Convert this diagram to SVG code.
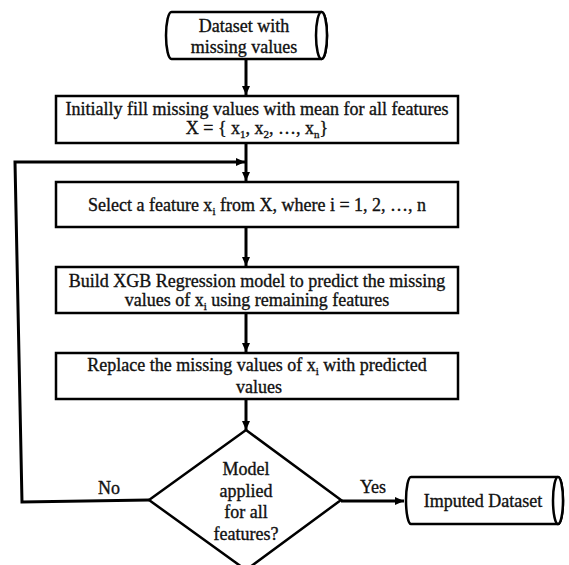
<svg xmlns="http://www.w3.org/2000/svg" width="569" height="565" viewBox="0 0 569 565">
<style>
.shape{fill:#fff;stroke:#000;stroke-width:2.5}
.conn{fill:none;stroke:#000;stroke-width:3}
text{font-family:"Liberation Serif","Times New Roman",serif;font-size:18px;fill:#111;stroke:#111;stroke-width:0.35;text-anchor:middle}
.sub{font-size:11px}
</style>
<defs>
<marker id="ah" markerUnits="userSpaceOnUse" markerWidth="10" markerHeight="10" refX="9" refY="4" orient="auto">
<path d="M0,0 L9,4 L0,8 Z" fill="#000"/>
</marker>
</defs>
<rect width="569" height="565" fill="#fff"/>
<g id="connectors">
<line class="conn" x1="246" y1="60" x2="246" y2="95" marker-end="url(#ah)"/>
<line class="conn" x1="246" y1="144" x2="246" y2="181" marker-end="url(#ah)"/>
<polyline class="conn" points="149,500 22,502 15,162 245,162" marker-end="url(#ah)"/>
<line class="conn" x1="246" y1="228" x2="246" y2="266" marker-end="url(#ah)"/>
<line class="conn" x1="246" y1="314" x2="246" y2="352" marker-end="url(#ah)"/>
<line class="conn" x1="246" y1="400" x2="246" y2="430" marker-end="url(#ah)"/>
<line class="conn" x1="341" y1="501" x2="404" y2="501" marker-end="url(#ah)"/>
<text x="109" y="494">No</text>
<text x="373" y="493">Yes</text>
</g>
<g id="start">
<path class="shape" d="M171.5,12 H321.5 A5.5,23.5 0 0 1 321.5,59 H171.5 A5.5,23.5 0 0 1 171.5,12 Z"/>
<ellipse class="shape" cx="321.5" cy="35.5" rx="5.5" ry="23.5"/>
<text x="244" y="32">Dataset with</text>
<text x="244" y="53">missing values</text>
</g>
<g id="init">
<rect class="shape" x="56" y="96" width="402" height="47"/>
<text x="257" y="115">Initially fill missing values with mean for all features</text>
<text x="257" y="134">X = { x<tspan class="sub" dy="4">1</tspan><tspan dy="-4">, x</tspan><tspan class="sub" dy="4">2</tspan><tspan dy="-4">, …, x</tspan><tspan class="sub" dy="4">n</tspan><tspan dy="-4">}</tspan></text>
</g>
<g id="select">
<rect class="shape" x="56" y="182" width="402" height="45"/>
<text x="257" y="211">Select a feature x<tspan class="sub" dy="4">i</tspan><tspan dy="-4"> from X, where i = 1, 2, …, n</tspan></text>
</g>
<g id="build">
<rect class="shape" x="56" y="267" width="402" height="46"/>
<text x="257" y="287">Build XGB Regression model to predict the missing</text>
<text x="257" y="306">values of x<tspan class="sub" dy="4">i</tspan><tspan dy="-4"> using remaining features</tspan></text>
</g>
<g id="replace">
<rect class="shape" x="56" y="353" width="402" height="46"/>
<text x="257" y="371">Replace the missing values of x<tspan class="sub" dy="4">i</tspan><tspan dy="-4"> with predicted</tspan></text>
<text x="259" y="393">values</text>
</g>
<g id="decision">
<polygon class="shape" points="246,430 341,500 246,570 149,500"/>
<text x="246" y="475">Model</text>
<text x="246" y="497">applied</text>
<text x="246" y="518">for all</text>
<text x="246" y="540">features?</text>
</g>
<g id="end">
<path class="shape" d="M411,477 H558 A5,23.5 0 0 1 558,524 H411 A5,23.5 0 0 1 411,477 Z"/>
<ellipse class="shape" cx="558" cy="500.5" rx="5" ry="23.5"/>
<text x="483" y="507">Imputed Dataset</text>
</g>
</svg>
